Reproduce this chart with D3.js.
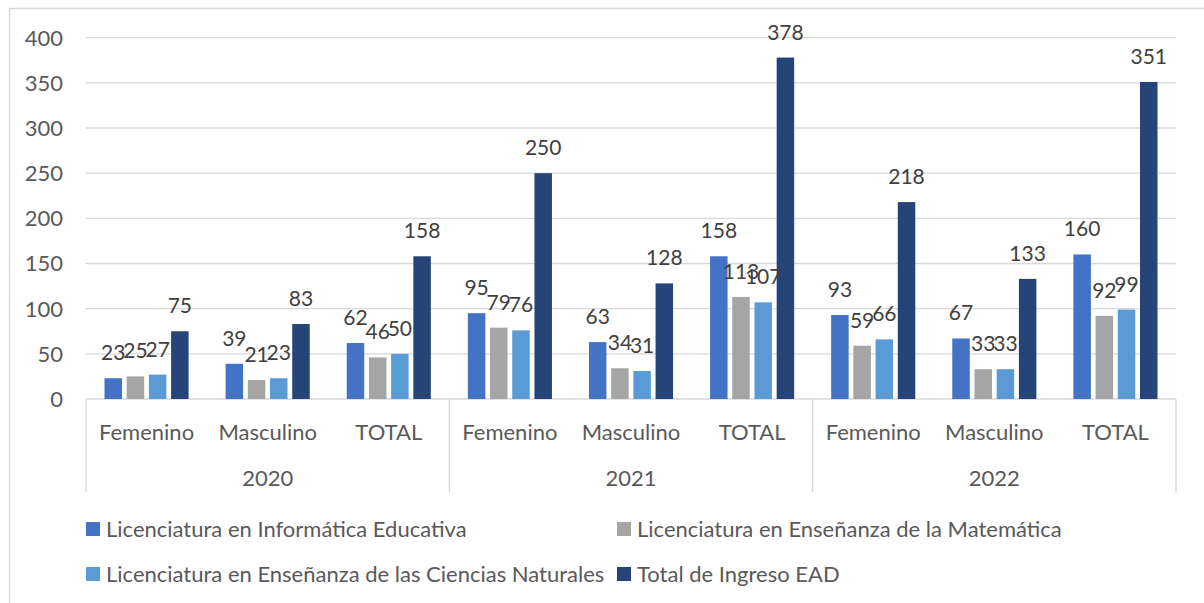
<!DOCTYPE html>
<html>
<head>
<meta charset="utf-8">
<script src="https://cdn.jsdelivr.net/npm/d3@7"></script>
<style>
  body { margin: 0; background: #fff; }
  svg { display: block; font-family: Lato, "Open Sans", sans-serif; }
</style>
</head>
<body>
<div id="chart"></div>
<script>
// Data
var years = ["2020", "2021", "2022"];
var groups = ["Femenino", "Masculino", "TOTAL"];
var seriesNames = [
  "Licenciatura en Informática Educativa",
  "Licenciatura en Enseñanza de la Matemática",
  "Licenciatura en Enseñanza de las Ciencias Naturales",
  "Total de Ingreso EAD"
];
var seriesColors = ["#4472C4", "#A5A5A5", "#5B9BD5", "#264478"];
// one list per series, 9 values: (2020 F, M, T, 2021 F, M, T, 2022 F, M, T)
var informatica = [23, 39, 62, 95, 63, 158, 93, 67, 160];
var matematica  = [25, 21, 46, 79, 34, 113, 59, 33, 92];
var ciencias    = [27, 23, 50, 76, 31, 107, 66, 33, 99];
var totalEAD    = [75, 83, 158, 250, 128, 378, 218, 133, 351];
var yTicks = [0, 50, 100, 150, 200, 250, 300, 350, 400];

var seriesValues = [informatica, matematica, ciencias, totalEAD];

var W = 1204, H = 603;
var plot = {left: 86, right: 1176, top: 37.7, bottom: 399};
var fs = 22;

var svg = d3.select("#chart").append("svg")
  .attr("width", W).attr("height", H);

// outer chart border
svg.append("rect")
  .attr("x", 9.5).attr("y", 8.5)
  .attr("width", W + 20).attr("height", H + 20)
  .attr("fill", "none").attr("stroke", "#D9D9D9").attr("stroke-width", 1.5);

// categories: year|group
var cats = [];
years.forEach(function(yr){
  groups.forEach(function(g){ cats.push(yr + "|" + g); });
});

var x = d3.scaleBand().domain(cats).range([plot.left, plot.right]).padding(0);
var xInner = d3.scaleBand().domain(d3.range(4))
  .range([18.5, x.bandwidth() - 18.5]).paddingInner(0.212).paddingOuter(0);
var y = d3.scaleLinear().domain([0, 400]).range([plot.bottom, plot.top]);

// gridlines
svg.append("g").selectAll("line")
  .data(yTicks)
  .enter().append("line")
    .attr("x1", plot.left).attr("x2", plot.right)
    .attr("y1", function(d){ return y(d); })
    .attr("y2", function(d){ return y(d); })
    .attr("stroke", "#D9D9D9").attr("stroke-width", 1.3);

// y axis labels
svg.append("g").selectAll("text")
  .data(yTicks)
  .enter().append("text")
    .attr("x", 63)
    .attr("y", function(d){ return y(d); })
    .attr("dy", "0.36em")
    .attr("text-anchor", "end")
    .attr("font-size", fs)
    .attr("fill", "#595959")
    .text(function(d){ return d; });

// bars
var bars = [];
seriesValues.forEach(function(vals, s){
  vals.forEach(function(v, i){
    bars.push({s: s, cat: cats[i], value: v});
  });
});

svg.append("g").selectAll("rect")
  .data(bars)
  .enter().append("rect")
    .attr("x", function(d){ return x(d.cat) + xInner(d.s); })
    .attr("y", function(d){ return y(d.value); })
    .attr("width", xInner.bandwidth())
    .attr("height", function(d){ return y(0) - y(d.value); })
    .attr("fill", function(d){ return seriesColors[d.s]; });

// data labels (a touch smaller so neighbours only just touch, as in the original)
svg.append("g").selectAll("text")
  .data(bars)
  .enter().append("text")
    .attr("x", function(d){ return x(d.cat) + xInner(d.s) + xInner.bandwidth() / 2; })
    .attr("y", function(d){ return y(d.value) - 18; })
    .attr("text-anchor", "middle")
    .attr("font-size", 21)
    .attr("fill", "#404040")
    .text(function(d){ return d.value; });

// category axis: separators at year boundaries
var sepX = [plot.left];
years.forEach(function(yr){ sepX.push(x(yr + "|TOTAL") + x.bandwidth()); });
svg.append("g").selectAll("line")
  .data(sepX)
  .enter().append("line")
    .attr("x1", function(d){ return d; }).attr("x2", function(d){ return d; })
    .attr("y1", plot.bottom).attr("y2", 492)
    .attr("stroke", "#D9D9D9").attr("stroke-width", 1.3);

svg.append("g").selectAll("text")
  .data(cats)
  .enter().append("text")
    .attr("x", function(d){ return x(d) + x.bandwidth() / 2; })
    .attr("y", 432)
    .attr("dy", "0.36em")
    .attr("text-anchor", "middle")
    .attr("font-size", fs)
    .attr("fill", "#595959")
    .text(function(d){ return d.split("|")[1]; });

svg.append("g").selectAll("text")
  .data(years)
  .enter().append("text")
    .attr("x", function(d){ return (x(d + "|Femenino") + x(d + "|TOTAL") + x.bandwidth()) / 2; })
    .attr("y", 478)
    .attr("dy", "0.36em")
    .attr("text-anchor", "middle")
    .attr("font-size", fs)
    .attr("fill", "#595959")
    .text(function(d){ return d; });

// legend
var legendPos = [[86, 529], [617, 529], [86, 574], [617, 574]];
var legend = svg.append("g").selectAll("g")
  .data(seriesNames)
  .enter().append("g")
    .attr("transform", function(d, i){ return "translate(" + legendPos[i][0] + "," + legendPos[i][1] + ")"; });
legend.append("rect")
  .attr("x", 0).attr("y", -7).attr("width", 14).attr("height", 14)
  .attr("fill", function(d, i){ return seriesColors[i]; });
legend.append("text")
  .attr("x", 20).attr("dy", "0.36em")
  .attr("font-size", fs)
  .attr("fill", "#595959")
  .text(function(d){ return d; });
</script>
</body>
</html>
